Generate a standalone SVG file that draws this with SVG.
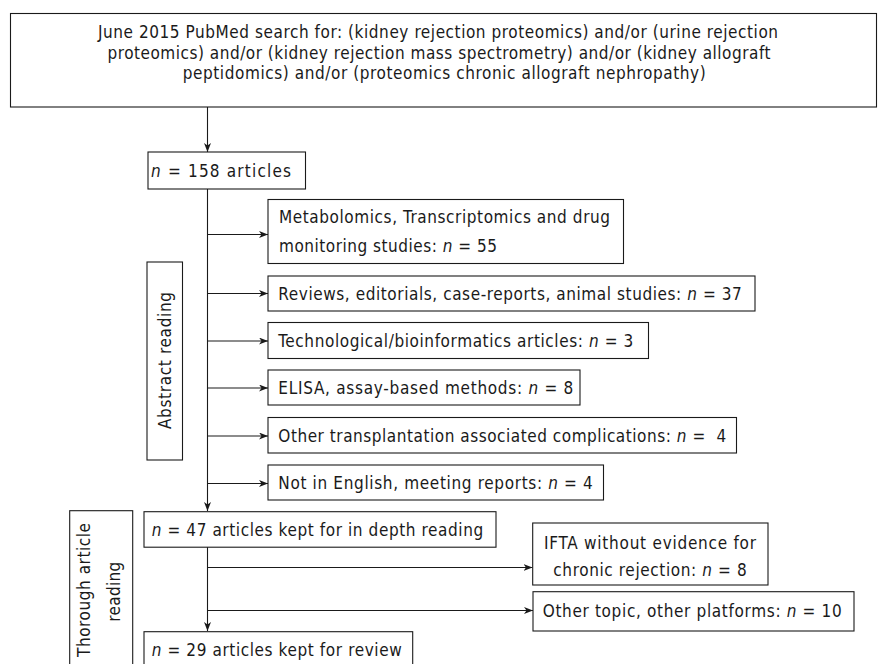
<svg xmlns="http://www.w3.org/2000/svg" width="878" height="664" viewBox="0 0 878 664">
<style>
rect{fill:#fff;stroke:#1a1a1a;stroke-width:1.1}
text{font-family:"DejaVu Sans Condensed","DejaVu Sans",sans-serif;font-size:17px;fill:#1a1a1a}
.i{font-style:italic}
#connectors line{stroke:#1a1a1a;stroke-width:1.1;fill:none}
.a{marker-end:url(#arr)}
</style>
<defs>
<marker id="arr" markerWidth="10" markerHeight="8" refX="9" refY="3.5" orient="auto" markerUnits="userSpaceOnUse">
<path d="M0,0 L9,3.5 L0,7 L2.5,3.5 z" fill="#1a1a1a"/>
</marker>
</defs>
<rect width="878" height="664" style="fill:#fff;stroke:none"/>
<g id="connectors">
<line x1="207.5" y1="107" x2="207.5" y2="152" class="a"/>
<line x1="207.5" y1="189" x2="207.5" y2="511" class="a"/>
<line x1="207.5" y1="547" x2="207.5" y2="631" class="a"/>
<line x1="207.5" y1="234.5" x2="268" y2="234.5" class="a"/>
<line x1="207.5" y1="293.5" x2="268" y2="293.5" class="a"/>
<line x1="207.5" y1="341" x2="268" y2="341" class="a"/>
<line x1="207.5" y1="388" x2="268" y2="388" class="a"/>
<line x1="207.5" y1="436" x2="268" y2="436" class="a"/>
<line x1="207.5" y1="483.5" x2="268" y2="483.5" class="a"/>
<line x1="207.5" y1="567.5" x2="532.5" y2="567.5" class="a"/>
<line x1="207.5" y1="610.5" x2="533" y2="610.5" class="a"/>
</g>
<g id="search">
<rect x="10.5" y="13.5" width="866" height="93.5"/>
<text x="98" y="38" textLength="680">June 2015 PubMed search for: (kidney rejection proteomics) and/or (urine rejection</text>
<text x="107.5" y="58.5" textLength="663">proteomics) and/or (kidney rejection mass spectrometry) and/or (kidney allograft</text>
<text x="182.7" y="79" textLength="523">peptidomics) and/or (proteomics chronic allograft nephropathy)</text>
</g>
<g id="n158">
<rect x="148" y="152" width="157.5" height="37"/>
<text x="151" y="176.5" textLength="140"><tspan class="i">n</tspan> = 158 articles</text>
</g>
<g id="metabolomics">
<rect x="268" y="199.5" width="355.5" height="64"/>
<text x="279" y="222.7" textLength="331">Metabolomics, Transcriptomics and drug</text>
<text x="279" y="251.7" textLength="218">monitoring studies: <tspan class="i">n</tspan> = 55</text>
</g>
<g id="reviews">
<rect x="268" y="276" width="487" height="35"/>
<text x="278.3" y="299.5" textLength="463.5">Reviews, editorials, case-reports, animal studies: <tspan class="i">n</tspan> = 37</text>
</g>
<g id="technological">
<rect x="268" y="322.5" width="380.5" height="36"/>
<text x="278.3" y="346.6" textLength="355">Technological/bioinformatics articles: <tspan class="i">n</tspan> = 3</text>
</g>
<g id="elisa">
<rect x="268" y="370" width="312" height="35"/>
<text x="278.3" y="394" textLength="295">ELISA, assay-based methods: <tspan class="i">n</tspan> = 8</text>
</g>
<g id="transplantation">
<rect x="268" y="417.5" width="468.5" height="35.5"/>
<text x="278.3" y="441.5" textLength="448">Other transplantation associated complications: <tspan class="i">n</tspan> =&#160; 4</text>
</g>
<g id="english">
<rect x="268" y="465" width="335.5" height="35"/>
<text x="278.3" y="489" textLength="314.5">Not in English, meeting reports: <tspan class="i">n</tspan> = 4</text>
</g>
<g id="abstract">
<rect x="147" y="262" width="35.5" height="198"/>
<text transform="translate(170.5,360.5) rotate(-90)" text-anchor="middle" textLength="137">Abstract reading</text>
</g>
<g id="n47">
<rect x="144" y="511.7" width="352" height="35.5"/>
<text x="151.7" y="536" textLength="331.5"><tspan class="i">n</tspan> = 47 articles kept for in depth reading</text>
</g>
<g id="ifta">
<rect x="532.7" y="523" width="235.3" height="62"/>
<text x="544" y="548.5" textLength="212">IFTA without evidence for</text>
<text x="553.3" y="575.5" textLength="193.4">chronic rejection: <tspan class="i">n</tspan> = 8</text>
</g>
<g id="othertopic">
<rect x="533" y="591.7" width="321" height="39.3"/>
<text x="542.7" y="617" textLength="299">Other topic, other platforms: <tspan class="i">n</tspan> = 10</text>
</g>
<g id="thorough">
<rect x="69.7" y="510.7" width="63" height="170"/>
<text transform="translate(90,590) rotate(-90)" text-anchor="middle" textLength="134">Thorough article</text>
<text transform="translate(120,591.7) rotate(-90)" text-anchor="middle" textLength="60">reading</text>
</g>
<g id="n29">
<rect x="144" y="631.7" width="268.7" height="50"/>
<text x="151.7" y="655.5" textLength="250"><tspan class="i">n</tspan> = 29 articles kept for review</text>
</g>
</svg>
